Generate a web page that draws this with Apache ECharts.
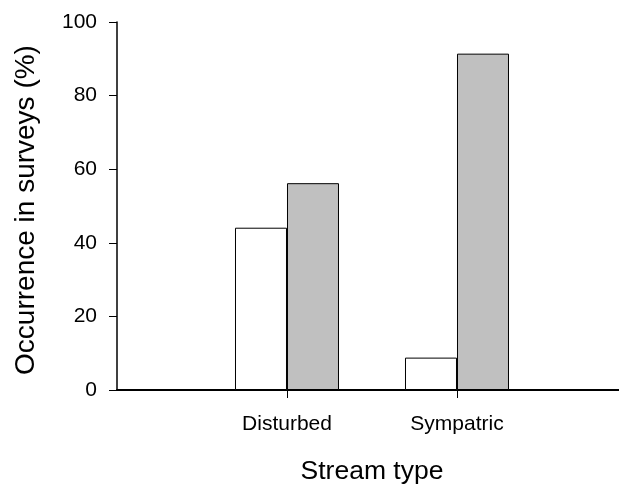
<!DOCTYPE html>
<html>
<head>
<meta charset="utf-8">
<script src="https://cdn.jsdelivr.net/npm/echarts@6/dist/echarts.min.js"></script>
<style>html,body{margin:0;padding:0;background:#fff;}#c{width:619px;height:484px;}</style>
</head>
<body>
<div id="c"></div>
<script>
var categories = ['Disturbed', 'Sympatric'];
var openValues = [44.1, 8.8];
var filledValues = [56.2, 91.4];
var yTicks = [0, 20, 40, 60, 80, 100];

var positions = categories.map(function (c, i) { return i + 1; });
var openData = openValues.map(function (v, i) { return [positions[i], v]; });
var filledData = filledValues.map(function (v, i) { return [positions[i], v]; });
var font = '"Liberation Sans", Arial, sans-serif';

var chart = echarts.init(document.getElementById('c'), null, {renderer: 'canvas'});
chart.setOption({
  animation: false,
  backgroundColor: '#fff',
  grid: {left: 117, top: 22, right: 0, height: 368, containLabel: false, outerBoundsMode: 'none'},
  xAxis: {
    type: 'value',
    min: 0,
    max: 2.953,
    name: 'Stream type',
    nameLocation: 'middle',
    nameGap: 68,
    nameTextStyle: {fontFamily: font, fontSize: 26.5, color: '#000', padding: [0, 0, 0, 8]},
    axisLine: {show: true, lineStyle: {color: '#000', width: 2}},
    axisTick: {show: true, length: 8, lineStyle: {color: '#000', width: 1}, customValues: positions},
    axisLabel: {margin: 24, fontFamily: font, fontSize: 21, color: '#000', customValues: positions,
      formatter: function (v) { var i = Math.round(v) - 1; return categories[i] || ''; }},
    splitLine: {show: false}
  },
  yAxis: {
    type: 'value',
    min: 0, max: 100, interval: 20,
    name: 'Occurrence in surveys (%)',
    nameLocation: 'middle',
    nameGap: 77,
    nameTextStyle: {fontFamily: font, fontSize: 28, color: '#000', padding: [0, 8, 0, 0]},
    axisLine: {show: true, lineStyle: {color: '#000', width: 1.5}},
    axisTick: {show: true, length: 8, lineStyle: {color: '#000', width: 1}},
    axisLabel: {margin: 20, fontFamily: font, fontSize: 21, color: '#000',
      formatter: function (v) { return yTicks.indexOf(v) >= 0 ? String(v) : ''; }},
    splitLine: {show: false}
  },
  series: [
    {type: 'bar', data: openData, barWidth: 52, barGap: '0%',
      itemStyle: {color: '#ffffff', borderColor: '#000', borderWidth: 1}},
    {type: 'bar', data: filledData, barWidth: 52, barGap: '0%',
      itemStyle: {color: '#c0c0c0', borderColor: '#000', borderWidth: 1}}
  ]
});
</script>
</body>
</html>
